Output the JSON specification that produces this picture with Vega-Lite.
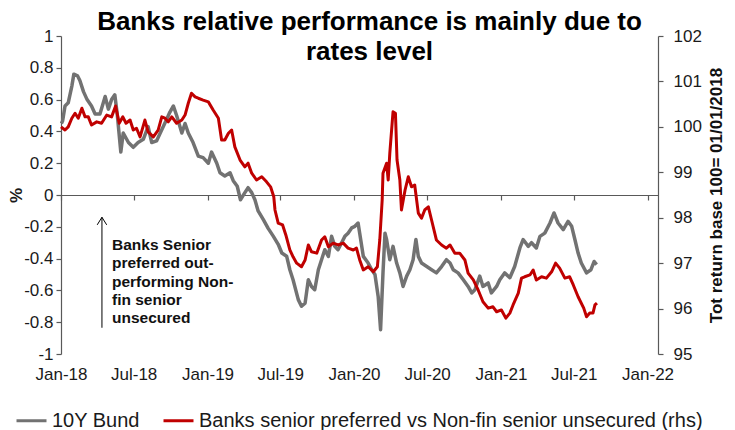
{
  "$schema": "https://vega.github.io/schema/vega-lite/v6.json",
  "width": 597,
  "height": 318,
  "autosize": {"type": "none"},
  "padding": {"left": 61, "top": 36, "right": 77, "bottom": 76},
  "background": "white",
  "config": {
    "view": {"stroke": null},
    "font": "Liberation Sans",
    "axis": {"labelFont": "Liberation Sans", "titleFont": "Liberation Sans", "labelColor": "#1a1a1a", "domainColor": "#595959", "tickColor": "#595959", "grid": false, "labelFontSize": 17, "domainWidth": 1.2, "tickWidth": 1.2, "labelOverlap": false, "labelFlush": false},
    "legend": {"labelFont": "Liberation Sans"}
  },
  "title": {
    "text": ["Banks relative performance is mainly due to", "rates level"],
    "font": "Liberation Sans",
    "fontSize": 26,
    "fontWeight": "bold",
    "color": "#000000",
    "anchor": "middle",
    "frame": "group",
    "lineHeight": 30,
    "baseline": "bottom",
    "offset": -64,
    "dx": 10
  },
  "datasets": {
    "bund": [
      {"date": "2018-01-02", "series": "10Y Bund", "value": 0.45},
      {"date": "2018-01-05", "series": "10Y Bund", "value": 0.465},
      {"date": "2018-01-11", "series": "10Y Bund", "value": 0.56},
      {"date": "2018-01-19", "series": "10Y Bund", "value": 0.58},
      {"date": "2018-01-28", "series": "10Y Bund", "value": 0.685},
      {"date": "2018-02-02", "series": "10Y Bund", "value": 0.76},
      {"date": "2018-02-11", "series": "10Y Bund", "value": 0.75},
      {"date": "2018-02-17", "series": "10Y Bund", "value": 0.72},
      {"date": "2018-02-26", "series": "10Y Bund", "value": 0.65},
      {"date": "2018-03-07", "series": "10Y Bund", "value": 0.6},
      {"date": "2018-03-18", "series": "10Y Bund", "value": 0.56},
      {"date": "2018-03-27", "series": "10Y Bund", "value": 0.51},
      {"date": "2018-04-08", "series": "10Y Bund", "value": 0.51},
      {"date": "2018-04-21", "series": "10Y Bund", "value": 0.62},
      {"date": "2018-04-29", "series": "10Y Bund", "value": 0.54},
      {"date": "2018-05-07", "series": "10Y Bund", "value": 0.6},
      {"date": "2018-05-15", "series": "10Y Bund", "value": 0.63},
      {"date": "2018-05-21", "series": "10Y Bund", "value": 0.51},
      {"date": "2018-05-30", "series": "10Y Bund", "value": 0.27},
      {"date": "2018-06-05", "series": "10Y Bund", "value": 0.39},
      {"date": "2018-06-18", "series": "10Y Bund", "value": 0.33},
      {"date": "2018-06-30", "series": "10Y Bund", "value": 0.3},
      {"date": "2018-07-12", "series": "10Y Bund", "value": 0.33},
      {"date": "2018-07-25", "series": "10Y Bund", "value": 0.35},
      {"date": "2018-08-06", "series": "10Y Bund", "value": 0.43},
      {"date": "2018-08-15", "series": "10Y Bund", "value": 0.33},
      {"date": "2018-08-27", "series": "10Y Bund", "value": 0.34},
      {"date": "2018-09-09", "series": "10Y Bund", "value": 0.41},
      {"date": "2018-09-21", "series": "10Y Bund", "value": 0.475},
      {"date": "2018-09-29", "series": "10Y Bund", "value": 0.52},
      {"date": "2018-10-08", "series": "10Y Bund", "value": 0.56},
      {"date": "2018-10-16", "series": "10Y Bund", "value": 0.5},
      {"date": "2018-10-29", "series": "10Y Bund", "value": 0.39},
      {"date": "2018-11-06", "series": "10Y Bund", "value": 0.45},
      {"date": "2018-11-14", "series": "10Y Bund", "value": 0.39},
      {"date": "2018-11-26", "series": "10Y Bund", "value": 0.33},
      {"date": "2018-12-09", "series": "10Y Bund", "value": 0.245},
      {"date": "2018-12-21", "series": "10Y Bund", "value": 0.235},
      {"date": "2019-01-03", "series": "10Y Bund", "value": 0.2},
      {"date": "2019-01-11", "series": "10Y Bund", "value": 0.27},
      {"date": "2019-01-24", "series": "10Y Bund", "value": 0.2},
      {"date": "2019-02-01", "series": "10Y Bund", "value": 0.14},
      {"date": "2019-02-13", "series": "10Y Bund", "value": 0.12},
      {"date": "2019-02-26", "series": "10Y Bund", "value": 0.14},
      {"date": "2019-03-06", "series": "10Y Bund", "value": 0.09},
      {"date": "2019-03-16", "series": "10Y Bund", "value": 0.055},
      {"date": "2019-03-24", "series": "10Y Bund", "value": -0.03},
      {"date": "2019-04-04", "series": "10Y Bund", "value": 0.015},
      {"date": "2019-04-12", "series": "10Y Bund", "value": 0.046},
      {"date": "2019-04-21", "series": "10Y Bund", "value": 0.015},
      {"date": "2019-04-29", "series": "10Y Bund", "value": -0.03},
      {"date": "2019-05-07", "series": "10Y Bund", "value": -0.1},
      {"date": "2019-05-20", "series": "10Y Bund", "value": -0.155},
      {"date": "2019-06-01", "series": "10Y Bund", "value": -0.21},
      {"date": "2019-06-14", "series": "10Y Bund", "value": -0.26},
      {"date": "2019-06-26", "series": "10Y Bund", "value": -0.31},
      {"date": "2019-07-05", "series": "10Y Bund", "value": -0.365},
      {"date": "2019-07-17", "series": "10Y Bund", "value": -0.385},
      {"date": "2019-07-25", "series": "10Y Bund", "value": -0.47},
      {"date": "2019-08-02", "series": "10Y Bund", "value": -0.533},
      {"date": "2019-08-15", "series": "10Y Bund", "value": -0.658},
      {"date": "2019-08-23", "series": "10Y Bund", "value": -0.7},
      {"date": "2019-09-01", "series": "10Y Bund", "value": -0.68},
      {"date": "2019-09-09", "series": "10Y Bund", "value": -0.533},
      {"date": "2019-09-17", "series": "10Y Bund", "value": -0.575},
      {"date": "2019-09-25", "series": "10Y Bund", "value": -0.596},
      {"date": "2019-10-04", "series": "10Y Bund", "value": -0.47},
      {"date": "2019-10-12", "series": "10Y Bund", "value": -0.407},
      {"date": "2019-10-20", "series": "10Y Bund", "value": -0.344},
      {"date": "2019-10-29", "series": "10Y Bund", "value": -0.386},
      {"date": "2019-11-06", "series": "10Y Bund", "value": -0.26},
      {"date": "2019-11-14", "series": "10Y Bund", "value": -0.323},
      {"date": "2019-11-22", "series": "10Y Bund", "value": -0.344},
      {"date": "2019-12-01", "series": "10Y Bund", "value": -0.3},
      {"date": "2019-12-09", "series": "10Y Bund", "value": -0.26},
      {"date": "2019-12-17", "series": "10Y Bund", "value": -0.24},
      {"date": "2019-12-26", "series": "10Y Bund", "value": -0.207},
      {"date": "2020-01-03", "series": "10Y Bund", "value": -0.197},
      {"date": "2020-01-11", "series": "10Y Bund", "value": -0.176},
      {"date": "2020-01-15", "series": "10Y Bund", "value": -0.24},
      {"date": "2020-01-24", "series": "10Y Bund", "value": -0.386},
      {"date": "2020-02-05", "series": "10Y Bund", "value": -0.428},
      {"date": "2020-02-14", "series": "10Y Bund", "value": -0.47},
      {"date": "2020-02-22", "series": "10Y Bund", "value": -0.5},
      {"date": "2020-03-01", "series": "10Y Bund", "value": -0.638},
      {"date": "2020-03-07", "series": "10Y Bund", "value": -0.847},
      {"date": "2020-03-13", "series": "10Y Bund", "value": -0.49},
      {"date": "2020-03-18", "series": "10Y Bund", "value": -0.24},
      {"date": "2020-03-22", "series": "10Y Bund", "value": -0.28},
      {"date": "2020-03-30", "series": "10Y Bund", "value": -0.407},
      {"date": "2020-04-07", "series": "10Y Bund", "value": -0.323},
      {"date": "2020-04-16", "series": "10Y Bund", "value": -0.428},
      {"date": "2020-04-24", "series": "10Y Bund", "value": -0.49},
      {"date": "2020-05-02", "series": "10Y Bund", "value": -0.575},
      {"date": "2020-05-11", "series": "10Y Bund", "value": -0.51},
      {"date": "2020-05-19", "series": "10Y Bund", "value": -0.47},
      {"date": "2020-05-27", "series": "10Y Bund", "value": -0.407},
      {"date": "2020-06-03", "series": "10Y Bund", "value": -0.28},
      {"date": "2020-06-09", "series": "10Y Bund", "value": -0.386},
      {"date": "2020-06-17", "series": "10Y Bund", "value": -0.428},
      {"date": "2020-06-30", "series": "10Y Bund", "value": -0.45},
      {"date": "2020-07-12", "series": "10Y Bund", "value": -0.47},
      {"date": "2020-07-24", "series": "10Y Bund", "value": -0.49},
      {"date": "2020-08-06", "series": "10Y Bund", "value": -0.45},
      {"date": "2020-08-18", "series": "10Y Bund", "value": -0.407},
      {"date": "2020-08-27", "series": "10Y Bund", "value": -0.428},
      {"date": "2020-09-04", "series": "10Y Bund", "value": -0.47},
      {"date": "2020-09-16", "series": "10Y Bund", "value": -0.49},
      {"date": "2020-09-29", "series": "10Y Bund", "value": -0.533},
      {"date": "2020-10-11", "series": "10Y Bund", "value": -0.575},
      {"date": "2020-10-20", "series": "10Y Bund", "value": -0.616},
      {"date": "2020-10-28", "series": "10Y Bund", "value": -0.596},
      {"date": "2020-11-09", "series": "10Y Bund", "value": -0.51},
      {"date": "2020-11-17", "series": "10Y Bund", "value": -0.575},
      {"date": "2020-11-30", "series": "10Y Bund", "value": -0.553},
      {"date": "2020-12-08", "series": "10Y Bund", "value": -0.616},
      {"date": "2020-12-21", "series": "10Y Bund", "value": -0.575},
      {"date": "2020-12-29", "series": "10Y Bund", "value": -0.533},
      {"date": "2021-01-10", "series": "10Y Bund", "value": -0.49},
      {"date": "2021-01-23", "series": "10Y Bund", "value": -0.52},
      {"date": "2021-02-04", "series": "10Y Bund", "value": -0.45},
      {"date": "2021-02-17", "series": "10Y Bund", "value": -0.333},
      {"date": "2021-02-25", "series": "10Y Bund", "value": -0.28},
      {"date": "2021-03-10", "series": "10Y Bund", "value": -0.323},
      {"date": "2021-03-18", "series": "10Y Bund", "value": -0.3},
      {"date": "2021-03-30", "series": "10Y Bund", "value": -0.333},
      {"date": "2021-04-08", "series": "10Y Bund", "value": -0.26},
      {"date": "2021-04-20", "series": "10Y Bund", "value": -0.24},
      {"date": "2021-05-03", "series": "10Y Bund", "value": -0.176},
      {"date": "2021-05-13", "series": "10Y Bund", "value": -0.113},
      {"date": "2021-05-23", "series": "10Y Bund", "value": -0.176},
      {"date": "2021-06-05", "series": "10Y Bund", "value": -0.218},
      {"date": "2021-06-17", "series": "10Y Bund", "value": -0.166},
      {"date": "2021-06-26", "series": "10Y Bund", "value": -0.197},
      {"date": "2021-07-04", "series": "10Y Bund", "value": -0.28},
      {"date": "2021-07-12", "series": "10Y Bund", "value": -0.365},
      {"date": "2021-07-20", "series": "10Y Bund", "value": -0.428},
      {"date": "2021-08-02", "series": "10Y Bund", "value": -0.49},
      {"date": "2021-08-13", "series": "10Y Bund", "value": -0.47},
      {"date": "2021-08-21", "series": "10Y Bund", "value": -0.418},
      {"date": "2021-08-27", "series": "10Y Bund", "value": -0.438}
    ],
    "banks": [
      {"date": "2018-01-01", "series": "Banks senior preferred vs Non-fin  senior unsecured (rhs)", "value": 100.0},
      {"date": "2018-01-11", "series": "Banks senior preferred vs Non-fin  senior unsecured (rhs)", "value": 99.93},
      {"date": "2018-01-19", "series": "Banks senior preferred vs Non-fin  senior unsecured (rhs)", "value": 100.0},
      {"date": "2018-01-28", "series": "Banks senior preferred vs Non-fin  senior unsecured (rhs)", "value": 100.19},
      {"date": "2018-02-05", "series": "Banks senior preferred vs Non-fin  senior unsecured (rhs)", "value": 100.3},
      {"date": "2018-02-13", "series": "Banks senior preferred vs Non-fin  senior unsecured (rhs)", "value": 100.19},
      {"date": "2018-02-22", "series": "Banks senior preferred vs Non-fin  senior unsecured (rhs)", "value": 100.41},
      {"date": "2018-03-02", "series": "Banks senior preferred vs Non-fin  senior unsecured (rhs)", "value": 100.22},
      {"date": "2018-03-10", "series": "Banks senior preferred vs Non-fin  senior unsecured (rhs)", "value": 100.22},
      {"date": "2018-03-18", "series": "Banks senior preferred vs Non-fin  senior unsecured (rhs)", "value": 100.04},
      {"date": "2018-03-31", "series": "Banks senior preferred vs Non-fin  senior unsecured (rhs)", "value": 100.11},
      {"date": "2018-04-12", "series": "Banks senior preferred vs Non-fin  senior unsecured (rhs)", "value": 100.08},
      {"date": "2018-04-25", "series": "Banks senior preferred vs Non-fin  senior unsecured (rhs)", "value": 100.26},
      {"date": "2018-05-07", "series": "Banks senior preferred vs Non-fin  senior unsecured (rhs)", "value": 100.22},
      {"date": "2018-05-17", "series": "Banks senior preferred vs Non-fin  senior unsecured (rhs)", "value": 100.46},
      {"date": "2018-05-26", "series": "Banks senior preferred vs Non-fin  senior unsecured (rhs)", "value": 100.08},
      {"date": "2018-06-04", "series": "Banks senior preferred vs Non-fin  senior unsecured (rhs)", "value": 100.22},
      {"date": "2018-06-12", "series": "Banks senior preferred vs Non-fin  senior unsecured (rhs)", "value": 100.08},
      {"date": "2018-06-22", "series": "Banks senior preferred vs Non-fin  senior unsecured (rhs)", "value": 100.15},
      {"date": "2018-06-30", "series": "Banks senior preferred vs Non-fin  senior unsecured (rhs)", "value": 99.93},
      {"date": "2018-07-08", "series": "Banks senior preferred vs Non-fin  senior unsecured (rhs)", "value": 99.97},
      {"date": "2018-07-17", "series": "Banks senior preferred vs Non-fin  senior unsecured (rhs)", "value": 99.78},
      {"date": "2018-07-29", "series": "Banks senior preferred vs Non-fin  senior unsecured (rhs)", "value": 100.15},
      {"date": "2018-08-06", "series": "Banks senior preferred vs Non-fin  senior unsecured (rhs)", "value": 99.89},
      {"date": "2018-08-19", "series": "Banks senior preferred vs Non-fin  senior unsecured (rhs)", "value": 99.78},
      {"date": "2018-08-31", "series": "Banks senior preferred vs Non-fin  senior unsecured (rhs)", "value": 99.93},
      {"date": "2018-09-09", "series": "Banks senior preferred vs Non-fin  senior unsecured (rhs)", "value": 100.22},
      {"date": "2018-09-17", "series": "Banks senior preferred vs Non-fin  senior unsecured (rhs)", "value": 100.19},
      {"date": "2018-09-25", "series": "Banks senior preferred vs Non-fin  senior unsecured (rhs)", "value": 100.11},
      {"date": "2018-10-04", "series": "Banks senior preferred vs Non-fin  senior unsecured (rhs)", "value": 100.22},
      {"date": "2018-10-16", "series": "Banks senior preferred vs Non-fin  senior unsecured (rhs)", "value": 100.08},
      {"date": "2018-10-29", "series": "Banks senior preferred vs Non-fin  senior unsecured (rhs)", "value": 100.15},
      {"date": "2018-11-06", "series": "Banks senior preferred vs Non-fin  senior unsecured (rhs)", "value": 100.26},
      {"date": "2018-11-14", "series": "Banks senior preferred vs Non-fin  senior unsecured (rhs)", "value": 100.52},
      {"date": "2018-11-22", "series": "Banks senior preferred vs Non-fin  senior unsecured (rhs)", "value": 100.74},
      {"date": "2018-12-01", "series": "Banks senior preferred vs Non-fin  senior unsecured (rhs)", "value": 100.66},
      {"date": "2018-12-09", "series": "Banks senior preferred vs Non-fin  senior unsecured (rhs)", "value": 100.63},
      {"date": "2018-12-21", "series": "Banks senior preferred vs Non-fin  senior unsecured (rhs)", "value": 100.59},
      {"date": "2019-01-03", "series": "Banks senior preferred vs Non-fin  senior unsecured (rhs)", "value": 100.55},
      {"date": "2019-01-15", "series": "Banks senior preferred vs Non-fin  senior unsecured (rhs)", "value": 100.37},
      {"date": "2019-01-28", "series": "Banks senior preferred vs Non-fin  senior unsecured (rhs)", "value": 100.19},
      {"date": "2019-02-05", "series": "Banks senior preferred vs Non-fin  senior unsecured (rhs)", "value": 99.71},
      {"date": "2019-02-13", "series": "Banks senior preferred vs Non-fin  senior unsecured (rhs)", "value": 99.71},
      {"date": "2019-02-22", "series": "Banks senior preferred vs Non-fin  senior unsecured (rhs)", "value": 99.86},
      {"date": "2019-03-02", "series": "Banks senior preferred vs Non-fin  senior unsecured (rhs)", "value": 99.93},
      {"date": "2019-03-10", "series": "Banks senior preferred vs Non-fin  senior unsecured (rhs)", "value": 99.56},
      {"date": "2019-03-23", "series": "Banks senior preferred vs Non-fin  senior unsecured (rhs)", "value": 99.27},
      {"date": "2019-04-04", "series": "Banks senior preferred vs Non-fin  senior unsecured (rhs)", "value": 99.12},
      {"date": "2019-04-12", "series": "Banks senior preferred vs Non-fin  senior unsecured (rhs)", "value": 99.2},
      {"date": "2019-04-21", "series": "Banks senior preferred vs Non-fin  senior unsecured (rhs)", "value": 98.98},
      {"date": "2019-05-03", "series": "Banks senior preferred vs Non-fin  senior unsecured (rhs)", "value": 98.83},
      {"date": "2019-05-16", "series": "Banks senior preferred vs Non-fin  senior unsecured (rhs)", "value": 98.9},
      {"date": "2019-05-28", "series": "Banks senior preferred vs Non-fin  senior unsecured (rhs)", "value": 98.79},
      {"date": "2019-06-07", "series": "Banks senior preferred vs Non-fin  senior unsecured (rhs)", "value": 98.68},
      {"date": "2019-06-15", "series": "Banks senior preferred vs Non-fin  senior unsecured (rhs)", "value": 98.46},
      {"date": "2019-06-18", "series": "Banks senior preferred vs Non-fin  senior unsecured (rhs)", "value": 98.17},
      {"date": "2019-06-26", "series": "Banks senior preferred vs Non-fin  senior unsecured (rhs)", "value": 97.88},
      {"date": "2019-07-07", "series": "Banks senior preferred vs Non-fin  senior unsecured (rhs)", "value": 97.84},
      {"date": "2019-07-15", "series": "Banks senior preferred vs Non-fin  senior unsecured (rhs)", "value": 97.62},
      {"date": "2019-07-25", "series": "Banks senior preferred vs Non-fin  senior unsecured (rhs)", "value": 97.29},
      {"date": "2019-08-02", "series": "Banks senior preferred vs Non-fin  senior unsecured (rhs)", "value": 97.14},
      {"date": "2019-08-11", "series": "Banks senior preferred vs Non-fin  senior unsecured (rhs)", "value": 97.0},
      {"date": "2019-08-23", "series": "Banks senior preferred vs Non-fin  senior unsecured (rhs)", "value": 96.92},
      {"date": "2019-09-01", "series": "Banks senior preferred vs Non-fin  senior unsecured (rhs)", "value": 97.07},
      {"date": "2019-09-09", "series": "Banks senior preferred vs Non-fin  senior unsecured (rhs)", "value": 97.4},
      {"date": "2019-09-17", "series": "Banks senior preferred vs Non-fin  senior unsecured (rhs)", "value": 97.25},
      {"date": "2019-09-30", "series": "Banks senior preferred vs Non-fin  senior unsecured (rhs)", "value": 97.22},
      {"date": "2019-10-12", "series": "Banks senior preferred vs Non-fin  senior unsecured (rhs)", "value": 97.51},
      {"date": "2019-10-20", "series": "Banks senior preferred vs Non-fin  senior unsecured (rhs)", "value": 97.58},
      {"date": "2019-10-29", "series": "Banks senior preferred vs Non-fin  senior unsecured (rhs)", "value": 97.36},
      {"date": "2019-11-10", "series": "Banks senior preferred vs Non-fin  senior unsecured (rhs)", "value": 97.44},
      {"date": "2019-11-22", "series": "Banks senior preferred vs Non-fin  senior unsecured (rhs)", "value": 97.4},
      {"date": "2019-12-05", "series": "Banks senior preferred vs Non-fin  senior unsecured (rhs)", "value": 97.44},
      {"date": "2019-12-17", "series": "Banks senior preferred vs Non-fin  senior unsecured (rhs)", "value": 97.33},
      {"date": "2019-12-30", "series": "Banks senior preferred vs Non-fin  senior unsecured (rhs)", "value": 97.29},
      {"date": "2020-01-07", "series": "Banks senior preferred vs Non-fin  senior unsecured (rhs)", "value": 97.33},
      {"date": "2020-01-15", "series": "Banks senior preferred vs Non-fin  senior unsecured (rhs)", "value": 97.07},
      {"date": "2020-01-24", "series": "Banks senior preferred vs Non-fin  senior unsecured (rhs)", "value": 96.85},
      {"date": "2020-02-05", "series": "Banks senior preferred vs Non-fin  senior unsecured (rhs)", "value": 96.92},
      {"date": "2020-02-18", "series": "Banks senior preferred vs Non-fin  senior unsecured (rhs)", "value": 96.81},
      {"date": "2020-02-28", "series": "Banks senior preferred vs Non-fin  senior unsecured (rhs)", "value": 96.92},
      {"date": "2020-03-05", "series": "Banks senior preferred vs Non-fin  senior unsecured (rhs)", "value": 97.51},
      {"date": "2020-03-11", "series": "Banks senior preferred vs Non-fin  senior unsecured (rhs)", "value": 98.39},
      {"date": "2020-03-13", "series": "Banks senior preferred vs Non-fin  senior unsecured (rhs)", "value": 98.98},
      {"date": "2020-03-22", "series": "Banks senior preferred vs Non-fin  senior unsecured (rhs)", "value": 99.2},
      {"date": "2020-03-26", "series": "Banks senior preferred vs Non-fin  senior unsecured (rhs)", "value": 98.83},
      {"date": "2020-03-30", "series": "Banks senior preferred vs Non-fin  senior unsecured (rhs)", "value": 99.42},
      {"date": "2020-04-07", "series": "Banks senior preferred vs Non-fin  senior unsecured (rhs)", "value": 100.33},
      {"date": "2020-04-13", "series": "Banks senior preferred vs Non-fin  senior unsecured (rhs)", "value": 100.3},
      {"date": "2020-04-17", "series": "Banks senior preferred vs Non-fin  senior unsecured (rhs)", "value": 99.27},
      {"date": "2020-04-24", "series": "Banks senior preferred vs Non-fin  senior unsecured (rhs)", "value": 98.83},
      {"date": "2020-04-28", "series": "Banks senior preferred vs Non-fin  senior unsecured (rhs)", "value": 98.17},
      {"date": "2020-05-07", "series": "Banks senior preferred vs Non-fin  senior unsecured (rhs)", "value": 98.61},
      {"date": "2020-05-15", "series": "Banks senior preferred vs Non-fin  senior unsecured (rhs)", "value": 98.9},
      {"date": "2020-05-23", "series": "Banks senior preferred vs Non-fin  senior unsecured (rhs)", "value": 98.68},
      {"date": "2020-05-31", "series": "Banks senior preferred vs Non-fin  senior unsecured (rhs)", "value": 98.72},
      {"date": "2020-06-09", "series": "Banks senior preferred vs Non-fin  senior unsecured (rhs)", "value": 98.1},
      {"date": "2020-06-17", "series": "Banks senior preferred vs Non-fin  senior unsecured (rhs)", "value": 97.99},
      {"date": "2020-06-25", "series": "Banks senior preferred vs Non-fin  senior unsecured (rhs)", "value": 98.17},
      {"date": "2020-07-04", "series": "Banks senior preferred vs Non-fin  senior unsecured (rhs)", "value": 98.24},
      {"date": "2020-07-12", "series": "Banks senior preferred vs Non-fin  senior unsecured (rhs)", "value": 97.95},
      {"date": "2020-07-24", "series": "Banks senior preferred vs Non-fin  senior unsecured (rhs)", "value": 97.51},
      {"date": "2020-08-06", "series": "Banks senior preferred vs Non-fin  senior unsecured (rhs)", "value": 97.4},
      {"date": "2020-08-18", "series": "Banks senior preferred vs Non-fin  senior unsecured (rhs)", "value": 97.33},
      {"date": "2020-08-27", "series": "Banks senior preferred vs Non-fin  senior unsecured (rhs)", "value": 97.4},
      {"date": "2020-09-08", "series": "Banks senior preferred vs Non-fin  senior unsecured (rhs)", "value": 97.22},
      {"date": "2020-09-20", "series": "Banks senior preferred vs Non-fin  senior unsecured (rhs)", "value": 97.22},
      {"date": "2020-10-03", "series": "Banks senior preferred vs Non-fin  senior unsecured (rhs)", "value": 97.07},
      {"date": "2020-10-11", "series": "Banks senior preferred vs Non-fin  senior unsecured (rhs)", "value": 96.78},
      {"date": "2020-10-24", "series": "Banks senior preferred vs Non-fin  senior unsecured (rhs)", "value": 96.63},
      {"date": "2020-11-05", "series": "Banks senior preferred vs Non-fin  senior unsecured (rhs)", "value": 96.41},
      {"date": "2020-11-17", "series": "Banks senior preferred vs Non-fin  senior unsecured (rhs)", "value": 96.15},
      {"date": "2020-11-30", "series": "Banks senior preferred vs Non-fin  senior unsecured (rhs)", "value": 96.01},
      {"date": "2020-12-12", "series": "Banks senior preferred vs Non-fin  senior unsecured (rhs)", "value": 96.04},
      {"date": "2020-12-21", "series": "Banks senior preferred vs Non-fin  senior unsecured (rhs)", "value": 95.93},
      {"date": "2021-01-02", "series": "Banks senior preferred vs Non-fin  senior unsecured (rhs)", "value": 95.97},
      {"date": "2021-01-13", "series": "Banks senior preferred vs Non-fin  senior unsecured (rhs)", "value": 95.79},
      {"date": "2021-01-23", "series": "Banks senior preferred vs Non-fin  senior unsecured (rhs)", "value": 95.9},
      {"date": "2021-01-31", "series": "Banks senior preferred vs Non-fin  senior unsecured (rhs)", "value": 96.08},
      {"date": "2021-02-13", "series": "Banks senior preferred vs Non-fin  senior unsecured (rhs)", "value": 96.34},
      {"date": "2021-02-21", "series": "Banks senior preferred vs Non-fin  senior unsecured (rhs)", "value": 96.67},
      {"date": "2021-03-01", "series": "Banks senior preferred vs Non-fin  senior unsecured (rhs)", "value": 96.7},
      {"date": "2021-03-14", "series": "Banks senior preferred vs Non-fin  senior unsecured (rhs)", "value": 96.74},
      {"date": "2021-03-22", "series": "Banks senior preferred vs Non-fin  senior unsecured (rhs)", "value": 96.85},
      {"date": "2021-03-30", "series": "Banks senior preferred vs Non-fin  senior unsecured (rhs)", "value": 96.63},
      {"date": "2021-04-12", "series": "Banks senior preferred vs Non-fin  senior unsecured (rhs)", "value": 96.7},
      {"date": "2021-04-24", "series": "Banks senior preferred vs Non-fin  senior unsecured (rhs)", "value": 96.67},
      {"date": "2021-05-07", "series": "Banks senior preferred vs Non-fin  senior unsecured (rhs)", "value": 96.81},
      {"date": "2021-05-17", "series": "Banks senior preferred vs Non-fin  senior unsecured (rhs)", "value": 97.0},
      {"date": "2021-05-27", "series": "Banks senior preferred vs Non-fin  senior unsecured (rhs)", "value": 96.89},
      {"date": "2021-06-09", "series": "Banks senior preferred vs Non-fin  senior unsecured (rhs)", "value": 96.67},
      {"date": "2021-06-21", "series": "Banks senior preferred vs Non-fin  senior unsecured (rhs)", "value": 96.7},
      {"date": "2021-06-30", "series": "Banks senior preferred vs Non-fin  senior unsecured (rhs)", "value": 96.52},
      {"date": "2021-07-12", "series": "Banks senior preferred vs Non-fin  senior unsecured (rhs)", "value": 96.26},
      {"date": "2021-07-26", "series": "Banks senior preferred vs Non-fin  senior unsecured (rhs)", "value": 96.01},
      {"date": "2021-08-02", "series": "Banks senior preferred vs Non-fin  senior unsecured (rhs)", "value": 95.82},
      {"date": "2021-08-10", "series": "Banks senior preferred vs Non-fin  senior unsecured (rhs)", "value": 95.9},
      {"date": "2021-08-18", "series": "Banks senior preferred vs Non-fin  senior unsecured (rhs)", "value": 95.9},
      {"date": "2021-08-23", "series": "Banks senior preferred vs Non-fin  senior unsecured (rhs)", "value": 96.08},
      {"date": "2021-08-28", "series": "Banks senior preferred vs Non-fin  senior unsecured (rhs)", "value": 96.12}
    ],
    "note": [
      {"date": "2018-04-13", "low": -0.835, "high": -0.14, "labelDate": "2018-05-08", "labelY": -0.346, "label": "Banks Senior\npreferred out-\nperforming Non-\nfin senior\nunsecured"}
    ]
  },
  "layer": [
    {
      "layer": [
        {
          "data": {"name": "bund"},
          "mark": {"type": "line", "strokeWidth": 3.5, "strokeJoin": "round"},
          "encoding": {
            "x": {
              "field": "date", "type": "temporal",
              "scale": {"type": "utc", "domain": [{"year": 2018, "month": 1, "date": 1, "utc": true}, {"year": 2022, "month": 1, "date": 27, "utc": true}]},
              "axis": {
                "orient": "bottom", "title": null, "domain": false, "ticks": false, "tickSize": 0, "labelPadding": 12.5,
                "format": "%b-%y", "labelFontSize": 17, "labelOverlap": false,
                "values": [
                  {"year": 2018, "month": 1, "date": 1, "utc": true}, {"year": 2018, "month": 7, "date": 1, "utc": true},
                  {"year": 2019, "month": 1, "date": 1, "utc": true}, {"year": 2019, "month": 7, "date": 1, "utc": true},
                  {"year": 2020, "month": 1, "date": 1, "utc": true}, {"year": 2020, "month": 7, "date": 1, "utc": true},
                  {"year": 2021, "month": 1, "date": 1, "utc": true}, {"year": 2021, "month": 7, "date": 1, "utc": true},
                  {"year": 2022, "month": 1, "date": 1, "utc": true}
                ]
              }
            },
            "y": {
              "field": "value", "type": "quantitative",
              "scale": {"domain": [-1, 1], "nice": false, "zero": false},
              "axis": {
                "orient": "left", "values": [-1, -0.8, -0.6, -0.4, -0.2, 0, 0.2, 0.4, 0.6, 0.8, 1],
                "labelExpr": "'' + datum.value", "tickSize": 5, "labelPadding": 3, "labelOverlap": false, "labelBound": false,
                "title": "%", "titleFontSize": 17, "titleFontWeight": "bold", "titleColor": "#1a1a1a",
                "titleAngle": 270, "titleX": -45, "titleY": 159, "titleAlign": "center", "titleBaseline": "middle"
              }
            },
            "color": {
              "field": "series", "type": "nominal",
              "scale": {"domain": ["10Y Bund", "Banks senior preferred vs Non-fin  senior unsecured (rhs)"], "range": ["#727272", "#c00000"]},
              "legend": {
                "orient": "none", "legendX": -46, "legendY": 368, "direction": "horizontal", "title": null,
                "symbolType": "stroke", "symbolSize": 900, "symbolStrokeWidth": 3, "labelFontSize": 20, "labelColor": "#1a1a1a",
                "labelLimit": 700, "columnPadding": 17, "labelOffset": 4, "padding": 0
              }
            }
          }
        },
        {
          "data": {"name": "note"},
          "mark": {"type": "rule", "color": "#000000", "strokeWidth": 1},
          "encoding": {
            "x": {"field": "date", "type": "temporal", "axis": {"title": null, "labelOverlap": false}},
            "y": {"field": "low", "type": "quantitative", "axis": {"title": "%", "labelOverlap": false, "values": [-1, -0.8, -0.6, -0.4, -0.2, 0, 0.2, 0.4, 0.6, 0.8, 1]}},
            "y2": {"field": "high"}
          }
        },
        {
          "data": {"name": "note"},
          "mark": {"type": "point", "shape": "M-1,1.6L0,0L1,1.6", "filled": false, "stroke": "#000000", "strokeWidth": 1, "size": 90, "opacity": 1},
          "encoding": {
            "x": {"field": "date", "type": "temporal", "axis": {"title": null, "labelOverlap": false}},
            "y": {"field": "high", "type": "quantitative", "axis": {"title": "%", "labelOverlap": false, "values": [-1, -0.8, -0.6, -0.4, -0.2, 0, 0.2, 0.4, 0.6, 0.8, 1]}}
          }
        },
        {
          "data": {"name": "note"},
          "mark": {"type": "text", "align": "left", "baseline": "alphabetic", "fontSize": 15.5, "fontWeight": "bold", "font": "Liberation Sans", "color": "#111111", "lineBreak": "\n", "lineHeight": 18.3},
          "encoding": {
            "x": {"field": "labelDate", "type": "temporal", "axis": {"title": null, "labelOverlap": false}},
            "y": {"field": "labelY", "type": "quantitative", "axis": {"title": "%", "labelOverlap": false, "values": [-1, -0.8, -0.6, -0.4, -0.2, 0, 0.2, 0.4, 0.6, 0.8, 1]}},
            "text": {"field": "label"}
          }
        }
      ]
    },
    {
      "data": {"name": "banks"},
      "mark": {"type": "line", "strokeWidth": 3, "strokeJoin": "round"},
      "encoding": {
        "x": {
          "field": "date", "type": "temporal",
          "axis": {
            "orient": "bottom", "offset": -159, "title": null, "labels": false, "domain": true, "ticks": true, "tickSize": 5,
            "values": [
              {"year": 2018, "month": 1, "date": 1, "utc": true}, {"year": 2018, "month": 7, "date": 1, "utc": true},
              {"year": 2019, "month": 1, "date": 1, "utc": true}, {"year": 2019, "month": 7, "date": 1, "utc": true},
              {"year": 2020, "month": 1, "date": 1, "utc": true}, {"year": 2020, "month": 7, "date": 1, "utc": true},
              {"year": 2021, "month": 1, "date": 1, "utc": true}, {"year": 2021, "month": 7, "date": 1, "utc": true},
              {"year": 2022, "month": 1, "date": 1, "utc": true}
            ]
          }
        },
        "y": {
          "field": "value", "type": "quantitative",
          "scale": {"domain": [95, 102], "nice": false, "zero": false},
          "axis": {
            "orient": "right", "values": [95, 96, 97, 98, 99, 100, 101, 102], "format": "d", "tickSize": 5, "labelPadding": 10, "labelOverlap": false,
            "title": "Tot return base 100= 01/01/2018", "titleFontSize": 17, "titleFontWeight": "bold", "titleColor": "#111111",
            "titleAngle": 270, "titleX": 58, "titleY": 159, "titleAlign": "center", "titleBaseline": "middle"
          }
        },
        "color": {"field": "series", "type": "nominal"}
      }
    }
  ],
  "resolve": {"scale": {"y": "independent"}, "axis": {"x": "independent", "y": "independent"}}
}
